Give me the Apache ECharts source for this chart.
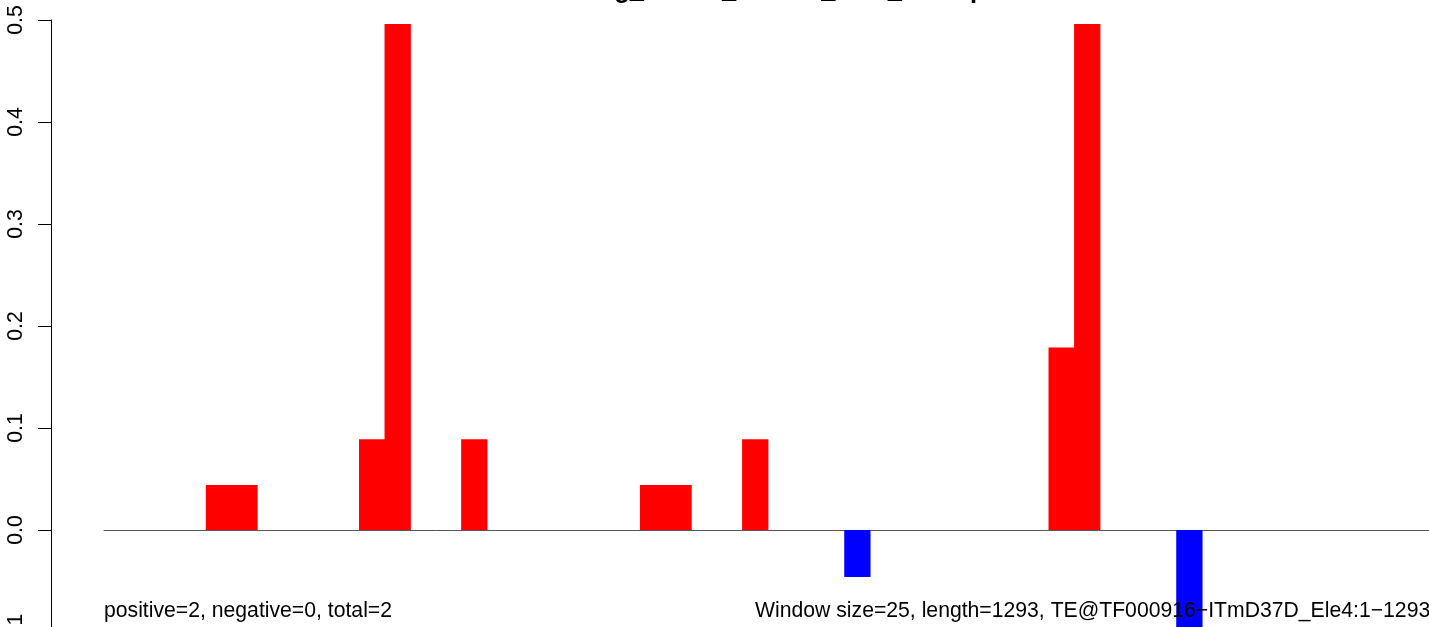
<!DOCTYPE html>
<html>
<head>
<meta charset="utf-8">
<script src="https://cdn.jsdelivr.net/npm/echarts@6/dist/echarts.min.js"></script>
<style>
html,body{margin:0;padding:0;background:#fff;}
#chart{width:1429px;height:627px;}
</style>
</head>
<body>
<div id="chart"></div>
<script>
// ---- data ----
const windowIndex = Array.from({length: 52}, (_, i) => String(i + 1));
const windowValues = [
  0, 0, 0, 0, 0.044, 0.044, 0, 0, 0, 0,
  0.089, 0.496, 0, 0, 0.089, 0, 0, 0, 0, 0,
  0, 0.044, 0.044, 0, 0, 0.089, 0, 0, 0, -0.046,
  0, 0, 0, 0, 0, 0, 0, 0.179, 0.496, 0,
  0, 0, -0.136, 0, 0, 0, 0, 0, 0, 0,
  0, 0
];
const yTicks = [-0.1, 0.0, 0.1, 0.2, 0.3, 0.4, 0.5];
const titleText = 'Rating_chrom_TmD37_Ele4_Lineup';
const leftNote = 'positive=2, negative=0, total=2';
const rightNote = 'Window size=25, length=1293, TE@TF000916\u2212ITmD37D_Ele4:1\u22121293';

const FONT = '"Liberation Sans", Arial, Helvetica, sans-serif';
const POS = '#FF0000', NEG = '#0000FF';

const barData = windowValues.map(v => ({value: v, itemStyle: {color: v < 0 ? NEG : POS}}));

const chart = echarts.init(document.getElementById('chart'), null, {renderer: 'canvas'});

chart.setOption({
  animation: false,
  backgroundColor: '#ffffff',
  grid: {left: 104, top: 20, width: 1328, height: 612, containLabel: false, outerBoundsMode: 'none'},
  xAxis: {
    type: 'category',
    data: windowIndex,
    boundaryGap: true,
    axisLine: {show: true, onZero: true, lineStyle: {color: '#555555', width: 1}},
    axisTick: {show: false},
    axisLabel: {show: false},
    splitLine: {show: false}
  },
  yAxis: {
    type: 'value',
    min: yTicks[0],
    max: yTicks[yTicks.length - 1],
    interval: 0.1,
    offset: 53,
    axisLine: {show: true, lineStyle: {color: '#000000', width: 1}},
    axisTick: {show: true, length: 13, lineStyle: {color: '#000000', width: 1}},
    axisLabel: {
      show: true,
      rotate: 90,
      margin: 24,
      fontFamily: FONT,
      fontSize: 21.2,
      color: '#000000',
      formatter: v => v.toFixed(1)
    },
    splitLine: {show: false}
  },
  series: [{
    type: 'bar',
    data: barData,
    barCategoryGap: '0%',
    barWidth: '103%'
  }],
  graphic: [
    {type: 'text', x: 768, y: -9, z: 100,
     style: {text: titleText, fill: '#000', font: 'bold 25.5px ' + FONT, textAlign: 'center', textVerticalAlign: 'middle'}},
    {type: 'text', x: 104, y: 611, z: 100,
     style: {text: leftNote, fill: '#000', font: '21.2px ' + FONT, textAlign: 'left', textVerticalAlign: 'middle'}},
    {type: 'text', x: 755, y: 611, z: 100,
     style: {text: rightNote, fill: '#000', font: '21.2px ' + FONT, textAlign: 'left', textVerticalAlign: 'middle'}}
  ]
});
</script>
</body>
</html>
